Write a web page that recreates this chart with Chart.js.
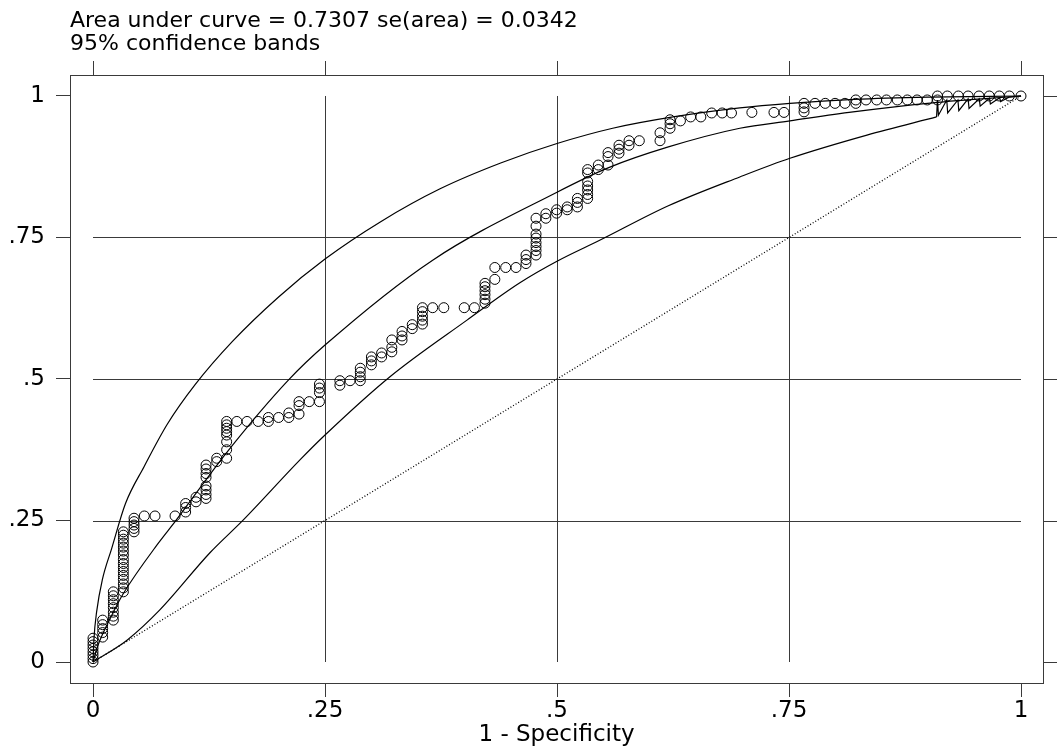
<!DOCTYPE html>
<html>
<head>
<meta charset="utf-8">
<title>ROC curve</title>
<script src="https://cdn.jsdelivr.net/npm/chart.js@4.4.1/dist/chart.umd.min.js"></script>
<style>
  html, body { margin: 0; padding: 0; background: #fff; }
  #wrap { width: 1061px; height: 753px; }
</style>
</head>
<body>
<div id="wrap"><canvas id="roc" width="1061" height="753"></canvas></div>
<script>
// Axis ticks
const tickVals = [0, 0.25, 0.5, 0.75, 1];
const tickText = ['0', '.25', '.5', '.75', '1'];
const gridVals = [0.25, 0.5, 0.75];

// Title lines
const titleLines = ['Area under curve = 0.7307 se(area) = 0.0342', '95% confidence bands'];

// Empirical ROC points: one x (1 - specificity) per column, stacked sensitivities
const rocFpr = [0, 0.0104, 0.0219, 0.0327, 0.0442, 0.0553, 0.0668, 0.0884, 0.0998, 0.111,
  0.1218, 0.1333, 0.144, 0.155, 0.166, 0.178, 0.189, 0.2, 0.211, 0.222,
  0.233, 0.244, 0.266, 0.277, 0.288, 0.3, 0.311, 0.322, 0.333, 0.344,
  0.355, 0.366, 0.378, 0.4, 0.411, 0.4224, 0.433, 0.4447, 0.4558, 0.4666,
  0.4774, 0.488, 0.4996, 0.511, 0.522, 0.533, 0.5445, 0.555, 0.5668, 0.5776,
  0.5887, 0.611, 0.6218, 0.633, 0.644, 0.655, 0.6667, 0.678, 0.688, 0.71,
  0.7338, 0.7446, 0.7662, 0.778, 0.789, 0.7996, 0.8103, 0.822, 0.833, 0.8445,
  0.855, 0.8667, 0.8775, 0.888, 0.899, 0.91, 0.9206, 0.9325, 0.943, 0.9547,
  0.9658, 0.9766, 0.9874, 1];
const rocTpr = [
  [0, 0.006, 0.012, 0.018, 0.024, 0.03, 0.036, 0.042],
  [0.044, 0.052, 0.059, 0.066, 0.074],
  [0.074, 0.081, 0.088, 0.096, 0.103, 0.11, 0.117, 0.124],
  [0.124, 0.131, 0.138, 0.146, 0.153, 0.16, 0.167, 0.174, 0.181, 0.189, 0.196, 0.203, 0.21, 0.217, 0.224, 0.23],
  [0.23, 0.236, 0.242, 0.248, 0.254],
  [0.258], [0.258], [0.258],
  [0.265, 0.273, 0.28],
  [0.283, 0.291],
  [0.289, 0.296, 0.304, 0.311, 0.326, 0.333, 0.341, 0.348],
  [0.354, 0.36],
  [0.36, 0.375, 0.389, 0.401, 0.407, 0.413, 0.419, 0.425],
  [0.425], [0.425], [0.425],
  [0.425, 0.432],
  [0.432],
  [0.432, 0.44],
  [0.438, 0.453, 0.46],
  [0.46],
  [0.46, 0.476, 0.484, 0.491],
  [0.489, 0.497],
  [0.497],
  [0.497, 0.504, 0.512, 0.519],
  [0.525, 0.532, 0.539],
  [0.539, 0.546],
  [0.548, 0.556, 0.569],
  [0.569, 0.576, 0.584],
  [0.589, 0.596],
  [0.597, 0.604, 0.611, 0.619, 0.626],
  [0.626], [0.626], [0.626], [0.626],
  [0.634, 0.641, 0.649, 0.656, 0.663, 0.669],
  [0.676, 0.697],
  [0.697], [0.697],
  [0.704, 0.711, 0.719],
  [0.719, 0.727, 0.734, 0.741, 0.749, 0.756, 0.77, 0.784],
  [0.784, 0.792],
  [0.793, 0.799],
  [0.799, 0.804],
  [0.804, 0.812, 0.819],
  [0.819, 0.826, 0.834, 0.841, 0.849, 0.864, 0.87],
  [0.87, 0.878],
  [0.878, 0.893, 0.9],
  [0.899, 0.906, 0.913],
  [0.913, 0.921],
  [0.921],
  [0.921, 0.935],
  [0.943, 0.951, 0.958],
  [0.956],
  [0.963], [0.963],
  [0.97], [0.97], [0.97],
  [0.971],
  [0.971], [0.971],
  [0.972, 0.979, 0.987],
  [0.987], [0.987], [0.987], [0.987],
  [0.987, 0.993],
  [0.993], [0.993], [0.993], [0.993], [0.993], [0.993], [0.993],
  [0.993, 1],
  [1], [1], [1], [1], [1], [1], [1], [1]
];

// Upper 95% band
const upperFpr = [0, 0.001, 0.004, 0.01, 0.02, 0.035, 0.055, 0.08, 0.11, 0.15, 0.2, 0.25, 0.31, 0.374, 0.44, 0.5, 0.56, 0.625, 0.697, 0.751, 0.82, 0.9, 1];
const upperTpr = [0, 0.04, 0.09, 0.145, 0.2, 0.28, 0.345, 0.42, 0.49, 0.566, 0.645, 0.712, 0.778, 0.836, 0.882, 0.916, 0.943, 0.963, 0.979, 0.987, 0.994, 0.998, 1];

// Fitted curve
const fitFpr = [0, 0.005, 0.0216, 0.0327, 0.0704, 0.0884, 0.144, 0.2105, 0.25, 0.366, 0.5, 0.555, 0.62, 0.697, 0.751, 0.819, 0.905, 1];
const fitTpr = [0, 0.028, 0.087, 0.121, 0.21, 0.248, 0.37, 0.498, 0.56, 0.71, 0.83, 0.873, 0.91, 0.943, 0.956, 0.972, 0.988, 1];

// Lower 95% band (smooth part, then the stepped tail near the top right)
const lowerFpr = [0, 0.037, 0.072, 0.126, 0.162, 0.223, 0.25, 0.32, 0.403, 0.46, 0.5, 0.546, 0.62, 0.697, 0.751, 0.834, 0.909];
const lowerTpr = [0, 0.039, 0.092, 0.193, 0.251, 0.357, 0.401, 0.504, 0.604, 0.67, 0.708, 0.745, 0.806, 0.857, 0.89, 0.931, 0.963];
const tailFpr = [0.909, 0.91, 0.911, 0.92, 0.921, 0.932, 0.933, 0.943, 0.944, 0.955, 0.956, 0.966, 0.967, 0.977, 0.978, 0.987, 1];
const tailTpr = [0.963, 0.993, 0.966, 0.993, 0.97, 0.993, 0.974, 0.995, 0.978, 0.995, 0.982, 0.996, 0.986, 0.997, 0.99, 0.998, 1];

// Reference diagonal
const diagFpr = [0, 1];
const diagTpr = [0, 1];

const FONT = 'DejaVu Sans';
const toPts = (xs, ys) => xs.map((x, i) => ({ x: x, y: ys[i] }));
const rocPts = rocFpr.flatMap((x, i) => rocTpr[i].map(y => ({ x: x, y: y })));

const curve = (xs, ys, extra) => Object.assign({
  data: toPts(xs, ys), showLine: true, pointRadius: 0, borderColor: '#000',
  borderWidth: 1.2, fill: false, cubicInterpolationMode: 'monotone'
}, extra || {});

// frame, gridlines and the ticks on top / right
const stataFrame = {
  id: 'stataFrame',
  beforeDatasetsDraw(chart) {
    const { ctx, chartArea: a, scales: { x, y } } = chart;
    const crisp = v => Math.round(v) + 0.5;
    ctx.save();
    ctx.strokeStyle = '#3a3a3a';
    ctx.lineWidth = 1;
    ctx.beginPath();
    gridVals.forEach(v => {
      const px = crisp(x.getPixelForValue(v));
      ctx.moveTo(px, y.getPixelForValue(0));
      ctx.lineTo(px, y.getPixelForValue(1));
      const py = crisp(y.getPixelForValue(v));
      ctx.moveTo(x.getPixelForValue(0), py);
      ctx.lineTo(x.getPixelForValue(1), py);
    });
    tickVals.forEach(v => {
      const px = crisp(x.getPixelForValue(v));
      ctx.moveTo(px, a.top);
      ctx.lineTo(px, a.top - 14);
      const py = crisp(y.getPixelForValue(v));
      ctx.moveTo(a.right, py);
      ctx.lineTo(a.right + 14, py);
    });
    ctx.stroke();
    ctx.strokeRect(crisp(a.left), crisp(a.top), Math.round(a.right - a.left), Math.round(a.bottom - a.top));
    ctx.restore();
  },
  afterDraw(chart) {
    const { ctx, chartArea: a } = chart;
    ctx.save();
    ctx.fillStyle = '#000';
    ctx.font = '22px "' + FONT + '"';
    ctx.textAlign = 'left';
    ctx.textBaseline = 'alphabetic';
    ctx.fillText(titleLines[0], a.left, 27);
    ctx.fillText(titleLines[1], a.left, 50);
    ctx.restore();
  }
};

const axisBase = (min, max) => ({
  type: 'linear', min: min, max: max,
  afterBuildTicks: axis => { axis.ticks = tickVals.map(v => ({ value: v })); },
  border: { display: false },
  grid: { display: true, drawOnChartArea: false, drawTicks: true, tickLength: 14, color: '#3a3a3a' },
  ticks: {
    color: '#000', font: { family: FONT, size: 23, lineHeight: 1 }, maxRotation: 0, autoSkip: false,
    callback: v => { const i = tickVals.indexOf(v); return i >= 0 ? tickText[i] : ''; }
  }
});

const xAxis = axisBase(-0.0248, 1.0237);
xAxis.ticks.padding = 3;
xAxis.title = { display: true, text: '1 - Specificity', color: '#000', font: { family: FONT, size: 23, lineHeight: 1 }, padding: { top: 0, bottom: 6 } };
xAxis.afterFit = s => { s.height = 70; };

const yAxis = axisBase(-0.0371, 1.0371);
yAxis.ticks.padding = 11;
yAxis.afterFit = s => { s.width = 70; };

new Chart(document.getElementById('roc'), {
  type: 'scatter',
  data: {
    datasets: [
      curve(diagFpr, diagTpr, { borderDash: [1, 2], borderWidth: 1.3, cubicInterpolationMode: 'default' }),
      curve(upperFpr, upperTpr),
      curve(fitFpr, fitTpr),
      curve(lowerFpr, lowerTpr),
      curve(tailFpr, tailTpr, { cubicInterpolationMode: 'default', tension: 0 }),
      {
        data: rocPts, showLine: false, pointStyle: 'circle', pointRadius: 5,
        pointBorderWidth: 1, pointBorderColor: '#000', pointBackgroundColor: 'rgba(0,0,0,0)'
      }
    ]
  },
  options: {
    responsive: false,
    animation: false,
    devicePixelRatio: 1,
    layout: { padding: { top: 75, right: 18, bottom: 0, left: 0 } },
    plugins: { legend: { display: false }, tooltip: { enabled: false }, title: { display: false } },
    scales: { x: xAxis, y: yAxis }
  },
  plugins: [stataFrame]
});
</script>
</body>
</html>
